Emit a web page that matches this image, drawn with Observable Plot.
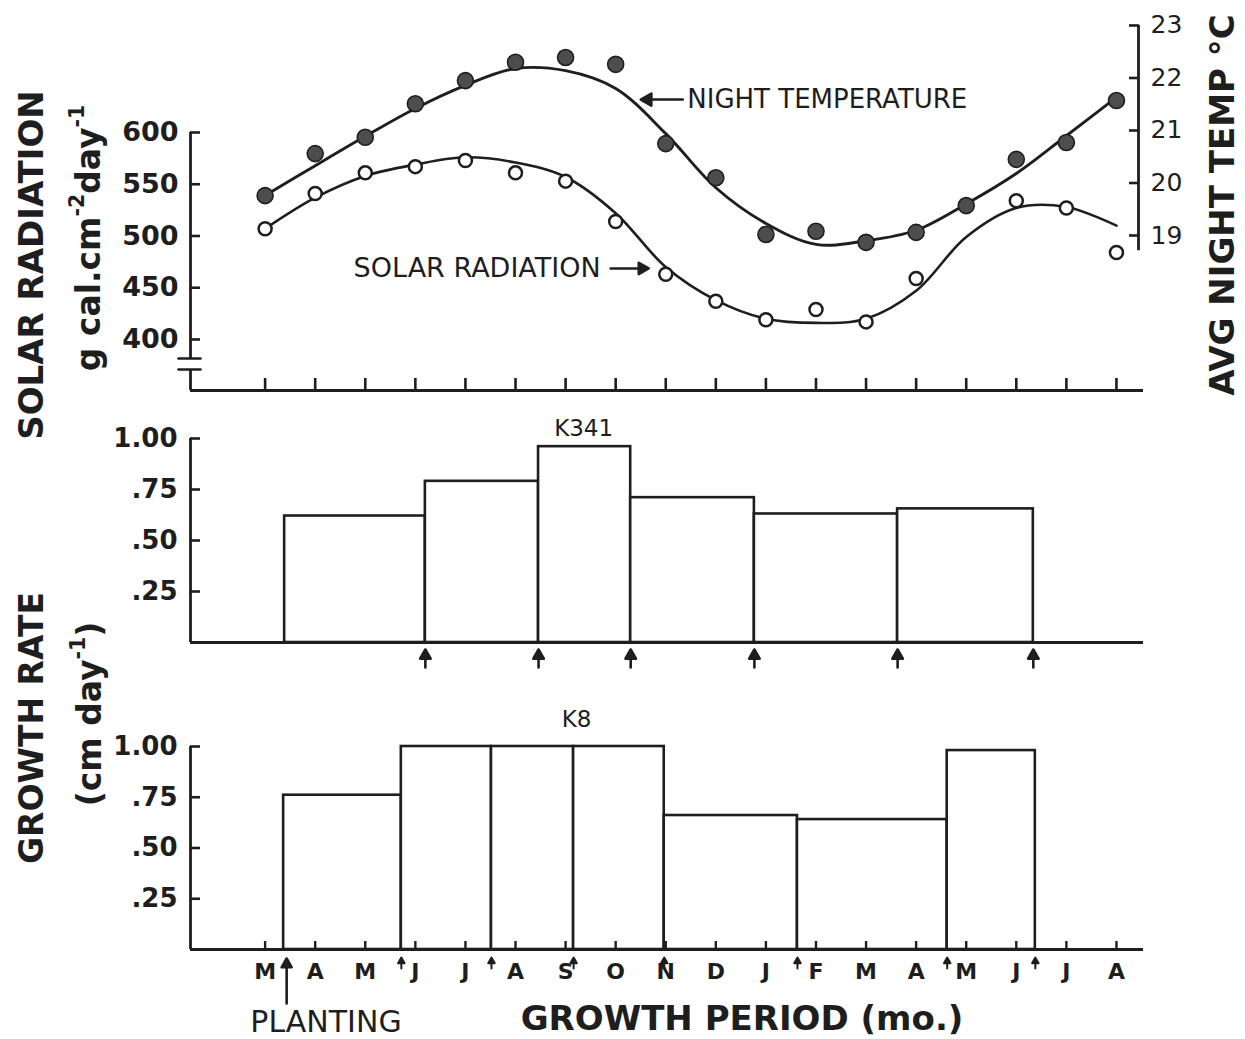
<!DOCTYPE html>
<html>
<head>
<meta charset="utf-8">
<script src="https://cdn.jsdelivr.net/npm/d3@7"></script>
<script src="https://cdn.jsdelivr.net/npm/@observablehq/plot@0.6"></script>
<style>
  html, body { margin: 0; background: #fff; }
  #fig { position: relative; width: 1245px; height: 1039px; overflow: hidden; background: #fff;
         font-family: "DejaVu Sans", sans-serif; color: #1e1e1e; }
  .vt { position: absolute; transform: translate(-50%, -50%) rotate(-90deg); white-space: nowrap;
        line-height: 1; font-weight: bold; }
  .lbl { position: absolute; white-space: nowrap; line-height: 1; transform: translateX(-50%); }
  .vt sup { font-size: 0.62em; vertical-align: 0.75em; line-height: 0; }
</style>
</head>
<body>
<div id="fig"></div>
<script>
// Months from March of the planting year to August of the following year
const monthLabels = ["M", "A", "M", "J", "J", "A", "S", "O", "N", "D", "J", "F", "M", "A", "M", "J", "J", "A"];
const monthIndex = [0, 1, 2, 3, 4, 5, 6, 7, 8, 9, 10, 11, 12, 13, 14, 15, 16, 17];

// Solar radiation (g cal cm^-2 day^-1): monthly means and the fitted curve
const solarObserved = [507, 541, 561, 567, 573, 561, 553, 514, 463, 437, 419, 429, 417, 459, 529, 534, 527, 484];
const solarFitted   = [507, 537, 558, 569, 576, 571, 557, 522, 470, 438, 420, 416, 420, 447, 499, 527, 528, 510];

// Average night temperature (°C): monthly means and the fitted curve
const nightObserved = [19.76, 20.56, 20.87, 21.51, 21.95, 22.30, 22.39, 22.26, 20.75, 20.10, 19.02, 19.08, 18.87, 19.06, 19.57, 20.45, 20.77, 21.57];
const nightFitted   = [19.76, 20.33, 20.89, 21.42, 21.86, 22.18, 22.14, 21.80, 20.94, 19.91, 19.23, 18.83, 18.90, 19.10, 19.60, 20.18, 20.90, 21.63];

// Growth periods (bounds in months from the March tick) and growth rates (cm day^-1)
const k341Bounds = [0.39, 3.20, 5.46, 7.30, 9.77, 12.63, 15.34];
const k341Rates  = [0.62, 0.79, 0.96, 0.71, 0.63, 0.655];
const k8Bounds   = [0.37, 2.72, 4.52, 6.16, 7.97, 10.63, 13.62, 15.38];
const k8Rates    = [0.76, 1.00, 1.00, 1.00, 0.66, 0.64, 0.98];
const plantingMonth = 0.43;

// Axis ticks
const solarTicks = [400, 450, 500, 550, 600];
const tempTicks = [19, 20, 21, 22, 23];
const rateTicks = [0.25, 0.50, 0.75, 1.00];
const rateTickLabels = [".25", ".50", ".75", "1.00"];

// Curve labels and panel labels
const solarNote = [{text: "SOLAR RADIATION", month: 6.70, arrowMonth: 6.90, value: 468.6}];
const nightNote = [{text: "NIGHT TEMPERATURE", month: 8.43, arrowMonth: 8.34, value: 21.59}];
const k341Label = [{text: "K341", month: 6.36, value: 1.05}];
const k8Label = [{text: "K8", month: 6.22, value: 1.13}];

const periods = (bounds, rates) => rates.map((rate, i) => ({start: bounds[i], end: bounds[i + 1], rate}));
const k341 = periods(k341Bounds, k341Rates);
const k8 = periods(k8Bounds, k8Rates);

const ink = "#1e1e1e";
const font = "DejaVu Sans, sans-serif";
const xDomain = [-1.49, 17.54];       // left axis to the end of the baselines
const xDomainTemp = [-1.49, 17.44];   // left axis to the temperature axis
const solarDomain = [350.7, 708.2];
const solarAxisSegments = [{y1: 381.6, y2: 600}, {y1: 350.7, y2: 371}];
const solarAxisBreak = [381.6, 371];
const tempDomain = [16.048, 23.095];
const tempAxisBottom = 18.71;

// Upward arrow with a solid head, for Plot.vector
const solidArrow = {
  draw(ctx, l, r) {
    const h = r * 2.2, w = r * 1.25;
    ctx.moveTo(0, 0);
    ctx.lineTo(0, -l + h);
    ctx.moveTo(0, -l);
    ctx.lineTo(-w, -l + h);
    ctx.lineTo(w, -l + h);
    ctx.closePath();
  }
};
// Plain stroke, for the axis-break marks
const plainStroke = { draw(ctx, l) { ctx.moveTo(0, 0); ctx.lineTo(0, -l); } };

const base = {width: 1245, marginLeft: 190, style: {fontFamily: font, color: ink, background: "transparent"}};

// Top panel: solar radiation against the left axis
const solarPlot = Plot.plot({
  ...base, height: 400, marginRight: 102, marginTop: 20, marginBottom: 10,
  x: {domain: xDomain},
  y: {domain: solarDomain},
  marks: [
    Plot.ruleY([solarDomain[0]], {stroke: ink, strokeWidth: 2.8}),
    Plot.ruleX(solarAxisSegments, {x: () => xDomain[0], y1: "y1", y2: "y2", stroke: ink, strokeWidth: 2.8}),
    Plot.vector(solarAxisBreak, {x: () => xDomain[0], y: d => d, dx: -1, rotate: 90, anchor: "middle", length: 22,
      shape: plainStroke, stroke: ink, strokeWidth: 2.6}),
    Plot.axisY({ticks: solarTicks, tickFormat: d => String(d), tickSize: -10, tickPadding: 22, fontSize: 27,
      fontWeight: "bold", strokeWidth: 2.6, label: null}),
    Plot.axisX({ticks: monthIndex, tickSize: -12, tickFormat: () => "", strokeWidth: 2.6, label: null}),
    Plot.line(monthIndex, {x: d => d, y: d => solarFitted[d], curve: "catmull-rom", stroke: ink, strokeWidth: 2.6}),
    Plot.dot(monthIndex, {x: d => d, y: d => solarObserved[d], r: 6.5, fill: "white", stroke: ink, strokeWidth: 2.5}),
    Plot.text(solarNote, {x: "month", y: "value", text: "text", textAnchor: "end", fontSize: 27}),
    Plot.vector(solarNote, {x: "arrowMonth", y: "value", rotate: 90, anchor: "start", length: 38,
      shape: solidArrow, r: 4.5, fill: ink, stroke: ink, strokeWidth: 2.6})
  ]
});

// Top panel overlay: night temperature against the right axis
const tempPlot = Plot.plot({
  ...base, height: 400, marginRight: 107, marginTop: 20, marginBottom: 10,
  x: {domain: xDomainTemp, axis: null},
  y: {domain: tempDomain},
  marks: [
    Plot.ruleX([xDomainTemp[1]], {y1: () => tempAxisBottom, y2: () => tempTicks[tempTicks.length - 1], stroke: ink, strokeWidth: 2.8}),
    Plot.axisY({anchor: "right", ticks: tempTicks, tickFormat: d => String(d), tickSize: -10, tickPadding: 22,
      fontSize: 25, strokeWidth: 2.6, label: null}),
    Plot.line(monthIndex, {x: d => d, y: d => nightFitted[d], curve: "catmull-rom", stroke: ink, strokeWidth: 2.9}),
    Plot.dot(monthIndex, {x: d => d, y: d => nightObserved[d], r: 8, fill: "#4d4d4d", stroke: ink, strokeWidth: 1.6}),
    Plot.text(nightNote, {x: "month", y: "value", text: "text", textAnchor: "start", fontSize: 26}),
    Plot.vector(nightNote, {x: "arrowMonth", y: "value", rotate: -90, anchor: "start", length: 42,
      shape: solidArrow, r: 4.8, fill: ink, stroke: ink, strokeWidth: 2.6})
  ]
});

// Middle panel: growth rate of K341
const k341Plot = Plot.plot({
  ...base, height: 290, marginRight: 102, marginTop: 38, marginBottom: 48,
  x: {domain: xDomain, axis: null},
  y: {domain: [0, 1]},
  marks: [
    Plot.rect(k341, {x1: "start", x2: "end", y1: () => 0, y2: "rate", fill: "white", stroke: ink, strokeWidth: 2.6}),
    Plot.ruleY([0], {stroke: ink, strokeWidth: 2.8}),
    Plot.ruleX([xDomain[0]], {y1: () => 0, y2: () => 1, stroke: ink, strokeWidth: 2.8}),
    Plot.axisY({ticks: rateTicks, tickFormat: d => rateTickLabels[rateTicks.indexOf(d)], tickSize: -10, tickPadding: 23,
      fontSize: 26, fontWeight: "bold", strokeWidth: 2.6, label: null}),
    Plot.vector(k341Bounds.slice(1), {x: d => d, y: () => 0, dy: 25, rotate: 0, anchor: "start", length: 18,
      shape: solidArrow, r: 4.2, fill: ink, stroke: ink, strokeWidth: 2.6}),
    Plot.text(k341Label, {x: "month", y: "value", text: "text", fontSize: 23})
  ]
});

// Bottom panel: growth rate of K8, with the month axis
const k8Plot = Plot.plot({
  ...base, height: 349, marginRight: 102, marginTop: 56, marginBottom: 90,
  x: {domain: xDomain},
  y: {domain: [0, 1]},
  marks: [
    Plot.rect(k8, {x1: "start", x2: "end", y1: () => 0, y2: "rate", fill: "white", stroke: ink, strokeWidth: 2.6}),
    Plot.ruleY([0], {stroke: ink, strokeWidth: 2.8}),
    Plot.ruleX([xDomain[0]], {y1: () => 0, y2: () => 1, stroke: ink, strokeWidth: 2.8}),
    Plot.axisY({ticks: rateTicks, tickFormat: d => rateTickLabels[rateTicks.indexOf(d)], tickSize: -10, tickPadding: 23,
      fontSize: 26, fontWeight: "bold", strokeWidth: 2.6, label: null}),
    Plot.axisX({ticks: monthIndex, tickFormat: d => monthLabels[d], tickSize: -8, tickPadding: 22,
      fontSize: 22, fontWeight: "bold", strokeWidth: 2.4, label: null}),
    Plot.vector(k8Bounds.slice(1), {x: d => d, y: () => 0, dy: 19, rotate: 0, anchor: "start", length: 11,
      shape: solidArrow, r: 2.6, fill: ink, stroke: ink, strokeWidth: 2}),
    Plot.vector([plantingMonth], {x: d => d, y: () => 0, dy: 54, rotate: 0, anchor: "start", length: 45,
      shape: solidArrow, r: 4, fill: ink, stroke: ink, strokeWidth: 2.6}),
    Plot.text(k8Label, {x: "month", y: "value", text: "text", fontSize: 23})
  ]
});

const fig = document.getElementById("fig");
function place(svg, top) {
  svg.style.position = "absolute";
  svg.style.left = "0px";
  svg.style.top = top + "px";
  fig.appendChild(svg);
}
place(solarPlot, 0);
place(tempPlot, 0);
place(k341Plot, 400);
place(k8Plot, 690);

// Axis titles and captions
function label(html, cls, left, top, size, weight) {
  const el = document.createElement("div");
  el.className = cls;
  el.innerHTML = html;
  el.style.left = left + "px";
  el.style.top = top + "px";
  el.style.fontSize = size + "px";
  if (weight) el.style.fontWeight = weight;
  fig.appendChild(el);
}
label("SOLAR RADIATION", "vt", 31, 265, 34);
label("g cal.cm<sup>-2</sup>day<sup>-1</sup>", "vt", 88, 238, 33);
label("GROWTH RATE", "vt", 31, 728, 33);
label("(cm day<sup>-1</sup>)", "vt", 89, 714, 33);
label("AVG NIGHT TEMP °C", "vt", 1222, 205, 34);
label("PLANTING", "lbl", 326, 1007, 30, "normal");
label("GROWTH PERIOD (mo.)", "lbl", 742, 1001, 34, "bold");
</script>
</body>
</html>
